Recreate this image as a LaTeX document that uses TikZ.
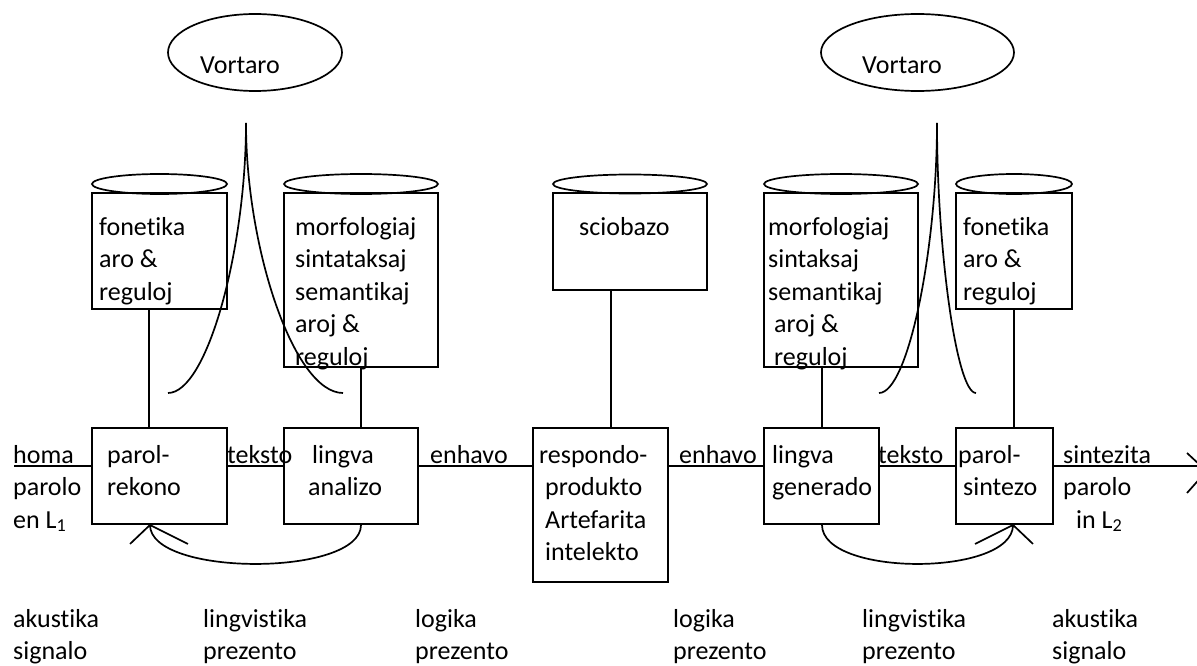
\documentclass[tikz,border=0pt]{standalone}
\usepackage{fontspec}
\setmainfont{Carlito}[Ligatures=NoCommon]
\usetikzlibrary{shapes.geometric}
\newcommand\dfont{\fontsize{26}{32.6}\selectfont}
\newcommand\ml[1]{\begin{tabular}[t]{@{}l@{}}#1\end{tabular}}
\tikzset{
  box/.style={draw, line width=1.9pt, inner sep=0pt},
  drum/.style={draw, ellipse, line width=1.7pt, inner sep=0pt},
  txt/.style={inner sep=0pt, anchor=base west, font=\dfont},
  conn/.style={line width=1.7pt},
}
\begin{document}
\begin{tikzpicture}[x=1pt,y=-1pt]
\useasboundingbox (0,0) rectangle (1197,666);
\clip (0,0) rectangle (1197,666);

% dictionaries
\node[drum, minimum width=174pt, minimum height=77pt] (vortL) at (255,52.5) {};
\node[drum, minimum width=193pt, minimum height=77pt] (vortR) at (917.5,52.5) {};
\node[txt] (vortLt) at (200,74) {Vortaro};
\node[txt] (vortRt) at (862,74) {Vortaro};

% cusps
\coordinate (cuspL) at (246,123);
\coordinate (cuspR) at (937,123);
\draw[conn] (cuspL) .. controls (246,250) and (207,393) .. (168,393);
\draw[conn] (cuspL) .. controls (246,250) and (294.5,393) .. (343,393);
\draw[conn] (cuspR) .. controls (937,250) and (908,393) .. (879,393);
\draw[conn] (cuspR) .. controls (937,250) and (956.5,393) .. (976,393);

% database tops
\node[drum, minimum width=135pt, minimum height=20pt] (fonLtop) at (159.5,184) {};
\node[drum, minimum width=154pt, minimum height=20pt] (morfLtop) at (361,184) {};
\node[drum, minimum width=154pt, minimum height=19pt] (sciotop) at (630,184) {};
\node[drum, minimum width=154pt, minimum height=20pt] (morfRtop) at (841,184) {};
\node[drum, minimum width=116pt, minimum height=20pt] (fonRtop) at (1014,184) {};

% database boxes
\node[box, minimum width=135pt, minimum height=116pt] (fonL) at (159.5,251) {};
\node[box, minimum width=154pt, minimum height=174pt] (morfL) at (361,280) {};
\node[box, minimum width=154pt, minimum height=97pt] (scio) at (630,241.5) {};
\node[box, minimum width=154pt, minimum height=174pt] (morfR) at (841,280) {};
\node[box, minimum width=116pt, minimum height=116pt] (fonR) at (1014,251) {};

% process boxes
\node[box, minimum width=135pt, minimum height=96pt] (rek) at (159.5,476) {};
\node[box, minimum width=134pt, minimum height=96pt] (ana) at (351,476) {};
\node[box, minimum width=135pt, minimum height=154pt] (resp) at (600.5,505) {};
\node[box, minimum width=115pt, minimum height=96pt] (gen) at (821.5,476) {};
\node[box, minimum width=97pt, minimum height=96pt] (sint) at (1004.5,476) {};

% texts in database boxes
\node[txt] (fonLt) at (99,235) {\ml{fonetika\\aro \&\\reguloj}};
\node[txt] (morfLt) at (295,235) {\ml{morfologiaj\\sintataksaj\\semantikaj\\aroj \&\\reguloj}};
\node[txt] (sciot) at (579,235) {sciobazo};
\node[txt] (morfRt) at (768,235) {\ml{morfologiaj\\sintaksaj\\semantikaj\\\hspace*{6pt}aroj \&\\\hspace*{6pt}reguloj}};
\node[txt] (fonRt) at (963,235) {\ml{fonetika\\aro \&\\reguloj}};

% texts in process boxes
\node[txt] (rekt) at (107,463) {\ml{parol-\\rekono}};
\node[txt] (anat) at (308,463) {\ml{\hspace*{4pt}lingva\\analizo}};
\node[txt] (respt) at (539,463) {\ml{respondo-\\\hspace*{6pt}produkto\\\hspace*{6pt}Artefarita\\\hspace*{6pt}intelekto}};
\node[txt] (gent) at (772,463) {\ml{lingva\\generado}};
\node[txt] (sintt) at (958,463) {\ml{parol-\\\hspace*{5pt}sintezo}};

% line labels
\node[txt] (homa) at (13,463) {\ml{homa\\parolo\\en L\textsubscript{1}}};
\node[txt] (tekL) at (227,463) {teksto};
\node[txt] (enhL) at (430,463) {enhavo};
\node[txt] (enhR) at (679,463) {enhavo};
\node[txt] (tekR) at (878,463) {teksto};
\node[txt] (sintz) at (1063,463) {\ml{sintezita\\parolo\\\hspace*{13pt}in L\textsubscript{2}}};

% bottom labels
\node[txt] (b1) at (13,627) {\ml{akustika\\signalo}};
\node[txt] (b2) at (203,627) {\ml{lingvistika\\prezento}};
\node[txt] (b3) at (415,627) {\ml{logika\\prezento}};
\node[txt] (b4) at (673,627) {\ml{logika\\prezento}};
\node[txt] (b5) at (862,627) {\ml{lingvistika\\prezento}};
\node[txt] (b6) at (1052,627) {\ml{akustika\\signalo}};

% vertical links
\draw[conn] ([xshift=-10.5pt]fonL.south) -- ([xshift=-10.5pt]rek.north);
\draw[conn] (morfL.south) -- (morfL.south |- ana.north);
\draw[conn] ([xshift=-19pt]scio.south) coordinate (s1) -- (s1 |- resp.north);
\draw[conn] ([xshift=0.5pt]gen.north |- morfR.south) -- ([xshift=0.5pt]gen.north);
\draw[conn] (fonR.south) -- (fonR.south |- sint.north);

% main signal line
\coordinate (hin) at (14,466);
\coordinate (tip) at (1201,466);
\draw[conn] (hin) -- (hin -| rek.west);
\draw[conn] (hin -| rek.east) -- (hin -| ana.west);
\draw[conn] (hin -| ana.east) -- (hin -| resp.west);
\draw[conn] (hin -| resp.east) -- (hin -| gen.west);
\draw[conn] (hin -| gen.east) -- (hin -| sint.west);
\draw[conn] (hin -| sint.east) -- (tip);
\draw[conn] (tip) -- ++(-14,-13);
\draw[conn] ([xshift=10pt]tip) -- ++(-24,27);

% feedback curves
\draw[conn] ([xshift=10pt]ana.south) .. controls +(0,52) and +(0,52) .. ([xshift=-9.5pt]rek.south)
  -- ++(-20,19) ([xshift=-9.5pt]rek.south) -- ++(38,19);
\draw[conn] ([xshift=0.5pt]gen.south) .. controls +(0,52) and +(0,52) .. ([xshift=8.5pt]sint.south)
  -- ++(-38,19) ([xshift=8.5pt]sint.south) -- ++(20,19);
\end{tikzpicture}
\end{document}
